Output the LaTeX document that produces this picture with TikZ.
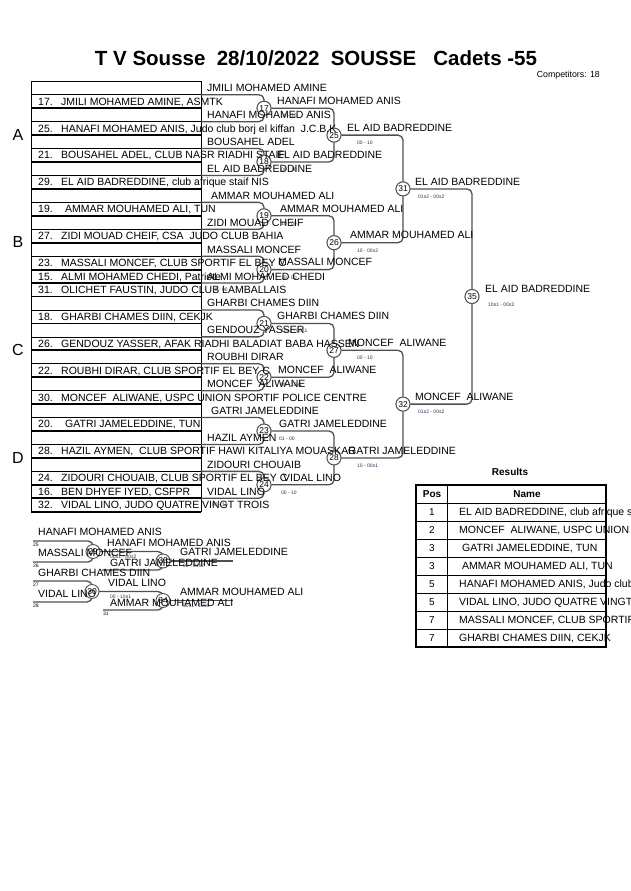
\documentclass[tikz,border=0pt]{standalone}
\usepackage{fontspec}
\setmainfont{Liberation Sans}
\usetikzlibrary{calc}
\definecolor{linecol}{HTML}{505050}
\definecolor{scorecol}{HTML}{2A3050}
\pgfmathdeclarefunction{rowtop}{1}{\pgfmathparse{81.3+13.45*#1}}
\begin{document}
\begin{tikzpicture}[x=1pt,y=-1pt,
  rowline/.style={draw=black,line width=0.6pt},
  rowthick/.style={draw=black,line width=1.8pt},
  lbl/.style={anchor=base west,inner sep=0pt,font=\fontsize{10.5}{12}\selectfont},
  sc/.style={anchor=base west,inner sep=0pt,font=\fontsize{5}{6}\selectfont,text=scorecol},
  tinynum/.style={anchor=base west,inner sep=0pt,font=\fontsize{5}{6}\selectfont},
  mc/.style={circle,draw=linecol,fill=white,line width=0.9pt,minimum size=14pt,inner sep=0pt,font=\fontsize{8.5}{9}\selectfont},
  conn/.style={draw=linecol,line width=1.3pt,rounded corners=5pt},
  pool/.style={anchor=center,inner sep=0pt,font=\fontsize{16}{18}\selectfont},
  tabtxt/.style={anchor=base west,inner sep=0pt,font=\fontsize{10.5}{12}\selectfont},
  tabpos/.style={anchor=center,inner sep=0pt,font=\fontsize{10}{12}\selectfont},
  tabhead/.style={anchor=center,inner sep=0pt,font=\bfseries\fontsize{10}{12}\selectfont},
]
\useasboundingbox (0,0) rectangle (630,891);
\fill[white] (0,0) rectangle (630,891);

% title
\node[inner sep=0pt,font=\bfseries\fontsize{20.5}{24}\selectfont] (title) at (316,58) {T V Sousse\ \ 28/10/2022\ \ SOUSSE\ \ \ Cadets -55};
\node[anchor=east,inner sep=0pt,font=\fontsize{8.8}{10}\selectfont] (comp) at (600,75) {Competitors: 18};

% left boxes
\foreach \i in {0,...,31} \draw[rowline] (31,{rowtop(\i)}) rectangle (201,{rowtop(\i+1)});
\foreach \i in {1,3,5,7,9,11,13,14,15,17,19,21,23,25,27,29,30,31} \draw[rowthick] (31,{rowtop(\i+1)}) -- (201,{rowtop(\i+1)});

% pool letters
\node[pool] (pA) at (18,135) {A};
\node[pool] (pB) at (18,242) {B};
\node[pool] (pC) at (18,350) {C};
\node[pool] (pD) at (18,458) {D};

% start coordinates
\foreach \i in {1,3,5,7,9,11,13,15,17,19,21,23,25,27,29,31} \coordinate (s\i) at (201,{rowtop(\i)});

% match circle positions
\coordinate (c17) at (264,108.2); \coordinate (c18) at (264,162.0);
\coordinate (c19) at (264,215.8); \coordinate (c20) at (264,269.6);
\coordinate (c21) at (264,323.4); \coordinate (c22) at (264,377.2);
\coordinate (c23) at (264,431.0); \coordinate (c24) at (264,484.8);
\coordinate (c25) at (334,135.1); \coordinate (c26) at (334,242.7);
\coordinate (c27) at (334,350.3); \coordinate (c28) at (334,457.9);
\coordinate (c31) at (403,188.9); \coordinate (c32) at (403,404.1);
\coordinate (c35) at (472,296.5);

\node[mc] (m17) at (c17) {17}; \node[mc] (m18) at (c18) {18};
\node[mc] (m19) at (c19) {19}; \node[mc] (m20) at (c20) {20};
\node[mc] (m21) at (c21) {21}; \node[mc] (m22) at (c22) {22};
\node[mc] (m23) at (c23) {23}; \node[mc] (m24) at (c24) {24};
\node[mc] (m25) at (c25) {25}; \node[mc] (m26) at (c26) {26};
\node[mc] (m27) at (c27) {27}; \node[mc] (m28) at (c28) {28};
\node[mc] (m31) at (c31) {31}; \node[mc] (m32) at (c32) {32};
\node[mc] (m35) at (c35) {35};

% connectors
\draw[conn] (s1) -| (m17); \draw[conn] (s3) -| (m17);
\draw[conn] (s5) -| (m18); \draw[conn] (s7) -| (m18);
\draw[conn] (s9) -| (m19); \draw[conn] (s11) -| (m19);
\draw[conn] (s13) -| (m20); \draw[conn] (s15) -| (m20);
\draw[conn] (s17) -| (m21); \draw[conn] (s19) -| (m21);
\draw[conn] (s21) -| (m22); \draw[conn] (s23) -| (m22);
\draw[conn] (s25) -| (m23); \draw[conn] (s27) -| (m23);
\draw[conn] (s29) -| (m24); \draw[conn] (s31) -| (m24);
\draw[conn] (m17) -| (m25); \draw[conn] (m18) -| (m25);
\draw[conn] (m19) -| (m26); \draw[conn] (m20) -| (m26);
\draw[conn] (m21) -| (m27); \draw[conn] (m22) -| (m27);
\draw[conn] (m23) -| (m28); \draw[conn] (m24) -| (m28);
\draw[conn] (m25) -| (m31); \draw[conn] (m26) -| (m31);
\draw[conn] (m27) -| (m32); \draw[conn] (m28) -| (m32);
\draw[conn] (m31) -| (m35); \draw[conn] (m32) -| (m35);

% redraw circles on top
\foreach \n in {17,18,19,20,21,22,23,24,25,26,27,28,31,32,35} \node[mc] at (c\n) {\n};

% row texts
\node[lbl] (t1) at (38,{rowtop(1)+10.4}) {\makebox[23pt][l]{17.}JMILI MOHAMED AMINE, ASMTK};
\node[lbl] (t3) at (38,{rowtop(3)+10.4}) {\makebox[23pt][l]{25.}HANAFI MOHAMED ANIS, Judo club borj el kiffan\ \ J.C.B.K};
\node[lbl] (t5) at (38,{rowtop(5)+10.4}) {\makebox[23pt][l]{21.}BOUSAHEL ADEL, CLUB NASR RIADHI STAIF};
\node[lbl] (t7) at (38,{rowtop(7)+10.4}) {\makebox[23pt][l]{29.}EL AID BADREDDINE, club afrique staif NIS};
\node[lbl] (t9) at (38,{rowtop(9)+10.4}) {\makebox[27pt][l]{19.}AMMAR MOUHAMED ALI, TUN};
\node[lbl] (t11) at (38,{rowtop(11)+10.4}) {\makebox[23pt][l]{27.}ZIDI MOUAD CHEIF, CSA\ \ JUDO CLUB BAHIA};
\node[lbl] (t13) at (38,{rowtop(13)+10.4}) {\makebox[23pt][l]{23.}MASSALI MONCEF, CLUB SPORTIF EL BEY C};
\node[lbl] (t14) at (38,{rowtop(14)+10.4}) {\makebox[23pt][l]{15.}ALMI MOHAMED CHEDI, Patriote};
\node[lbl] (t15) at (38,{rowtop(15)+10.4}) {\makebox[23pt][l]{31.}OLICHET FAUSTIN, JUDO CLUB LAMBALLAIS};
\node[lbl] (t17) at (38,{rowtop(17)+10.4}) {\makebox[23pt][l]{18.}GHARBI CHAMES DIIN, CEKJK};
\node[lbl] (t19) at (38,{rowtop(19)+10.4}) {\makebox[23pt][l]{26.}GENDOUZ YASSER, AFAK RIADHI BALADIAT BABA HASSEN};
\node[lbl] (t21) at (38,{rowtop(21)+10.4}) {\makebox[23pt][l]{22.}ROUBHI DIRAR, CLUB SPORTIF EL BEY C};
\node[lbl] (t23) at (38,{rowtop(23)+10.4}) {\makebox[23pt][l]{30.}MONCEF\ \ ALIWANE, USPC UNION SPORTIF POLICE CENTRE};
\node[lbl] (t25) at (38,{rowtop(25)+10.4}) {\makebox[27pt][l]{20.}GATRI JAMELEDDINE, TUN};
\node[lbl] (t27) at (38,{rowtop(27)+10.4}) {\makebox[23pt][l]{28.}HAZIL AYMEN,\ \ CLUB SPORTIF HAWI KITALIYA MOUASKAR};
\node[lbl] (t29) at (38,{rowtop(29)+10.4}) {\makebox[23pt][l]{24.}ZIDOURI CHOUAIB, CLUB SPORTIF EL BEY C};
\node[lbl] (t30) at (38,{rowtop(30)+10.4}) {\makebox[23pt][l]{16.}BEN DHYEF IYED, CSFPR};
\node[lbl] (t31) at (38,{rowtop(31)+10.4}) {\makebox[23pt][l]{32.}VIDAL LINO, JUDO QUATRE VINGT TROIS};

% names right of boxes
\node[lbl] (e0) at (207,{rowtop(0)+10.4}) {JMILI MOHAMED AMINE};
\node[lbl] (e2) at (207,{rowtop(2)+10.4}) {HANAFI MOHAMED ANIS};
\node[lbl] (e4) at (207,{rowtop(4)+10.4}) {BOUSAHEL ADEL};
\node[lbl] (e6) at (207,{rowtop(6)+10.4}) {EL AID BADREDDINE};
\node[lbl] (e8) at (211,{rowtop(8)+10.4}) {AMMAR MOUHAMED ALI};
\node[lbl] (e10) at (207,{rowtop(10)+10.4}) {ZIDI MOUAD CHEIF};
\node[lbl] (e12) at (207,{rowtop(12)+10.4}) {MASSALI MONCEF};
\node[lbl] (e14) at (207,{rowtop(14)+10.4}) {ALMI MOHAMED CHEDI};
\node[lbl] (e16) at (207,{rowtop(16)+10.4}) {GHARBI CHAMES DIIN};
\node[lbl] (e18) at (207,{rowtop(18)+10.4}) {GENDOUZ YASSER};
\node[lbl] (e20) at (207,{rowtop(20)+10.4}) {ROUBHI DIRAR};
\node[lbl] (e22) at (207,{rowtop(22)+10.4}) {MONCEF\ \ ALIWANE};
\node[lbl] (e24) at (211,{rowtop(24)+10.4}) {GATRI JAMELEDDINE};
\node[lbl] (e26) at (207,{rowtop(26)+10.4}) {HAZIL AYMEN};
\node[lbl] (e28) at (207,{rowtop(28)+10.4}) {ZIDOURI CHOUAIB};
\node[lbl] (e30) at (207,{rowtop(30)+10.4}) {VIDAL LINO};

% winner labels
\node[lbl] (w17) at (277,104.4) {HANAFI MOHAMED ANIS};
\node[lbl] (w18) at (277,158.2) {EL AID BADREDDINE};
\node[lbl] (w19) at (280,212.0) {AMMAR MOUHAMED ALI};
\node[lbl] (w20) at (278,265.8) {MASSALI MONCEF};
\node[lbl] (w21) at (277,319.6) {GHARBI CHAMES DIIN};
\node[lbl] (w22) at (278,373.4) {MONCEF\ \ ALIWANE};
\node[lbl] (w23) at (279,427.2) {GATRI JAMELEDDINE};
\node[lbl] (w24) at (283,481.0) {VIDAL LINO};
\node[lbl] (w25) at (347,131.3) {EL AID BADREDDINE};
\node[lbl] (w26) at (350,238.9) {AMMAR MOUHAMED ALI};
\node[lbl] (w27) at (348,346.5) {MONCEF\ \ ALIWANE};
\node[lbl] (w28) at (348,454.1) {GATRI JAMELEDDINE};
\node[lbl] (w31) at (415,185.1) {EL AID BADREDDINE};
\node[lbl] (w32) at (415,400.3) {MONCEF\ \ ALIWANE};
\node[lbl] (w35) at (485,292.7) {EL AID BADREDDINE};

% scores
\node[sc] (k17) at (281,117.7) {00 - 10};
\node[sc] (k18) at (281,171.5) {00 - 10};
\node[sc] (k19) at (281,225.3) {10 - 00};
\node[sc] (k20) at (281,279.1) {10 - 00};
\node[sc] (k21) at (281,332.9) {10s1 - 00s1};
\node[sc] (k22) at (281,386.7) {00 - 10s1};
\node[sc] (k23) at (279,440.5) {01 - 00};
\node[sc] (k24) at (281,494.3) {00 - 10};
\node[sc] (kp1) at (212,291.5) {10 - 00};
\node[sc] (kp2) at (212,506.0) {00 - 10};
\node[sc] (k25) at (357,144.6) {00 - 10};
\node[sc] (k26) at (357,252.2) {10 - 00s2};
\node[sc] (k27) at (357,359.8) {00 - 10};
\node[sc] (k28) at (357,467.4) {10 - 00s1};
\node[sc] (k31) at (418,198.4) {01s2 - 00s2};
\node[sc] (k32) at (418,413.6) {01s2 - 00s2};
\node[sc] (k35) at (488,306.0) {10s1 - 00s2};

% repechage
\coordinate (ra1) at (33,541); \coordinate (ra2) at (33,562);
\coordinate (rb1) at (102,570); \coordinate (re1) at (233,561);
\coordinate (ra3) at (33,581); \coordinate (ra4) at (33,602);
\coordinate (rb2) at (103,610); \coordinate (re2) at (233,600.5);
\coordinate (cr29) at (93,551.5); \coordinate (cr33) at (163,561);
\coordinate (cr30) at (92,591.5); \coordinate (cr34) at (163,600.5);
\draw[conn] (ra1) -| (cr29); \draw[conn] (ra2) -| (cr29);
\draw[conn] (cr29) -| (cr33); \draw[conn] (rb1) -| (cr33);
\draw[conn] (cr33) -- (re1);
\draw[conn] (ra3) -| (cr30); \draw[conn] (ra4) -| (cr30);
\draw[conn] (cr30) -| (cr34); \draw[conn] (rb2) -| (cr34);
\draw[conn] (cr34) -- (re2);
\node[mc] (r29) at (cr29) {29}; \node[mc] (r33) at (cr33) {33};
\node[mc] (r30) at (cr30) {30}; \node[mc] (r34) at (cr34) {34};

\node[tinynum] (n25) at (33,546) {25};
\node[tinynum] (n26) at (33,567) {26};
\node[tinynum] (n27) at (33,586) {27};
\node[tinynum] (n28) at (33,607) {28};
\node[tinynum] (n31) at (103,615) {31};

\node[lbl] (q1) at (38,535.7) {HANAFI MOHAMED ANIS};
\node[lbl] (q2) at (38,556.7) {MASSALI MONCEF};
\node[lbl] (q3) at (107,546.7) {HANAFI MOHAMED ANIS};
\node[lbl] (q4) at (110,566.7) {GATRI JAMELEDDINE};
\node[lbl] (q5) at (180,555.2) {GATRI JAMELEDDINE};
\node[lbl] (q6) at (38,576.7) {GHARBI CHAMES DIIN};
\node[lbl] (q7) at (38,597.7) {VIDAL LINO};
\node[lbl] (q8) at (108,586.7) {VIDAL LINO};
\node[lbl] (q9) at (110,606.7) {AMMAR MOUHAMED ALI};
\node[lbl] (q10) at (180,595.7) {AMMAR MOUHAMED ALI};
\node[sc] (qs1) at (110,558) {00s1 - 00s2};
\node[sc] (qs2) at (183,567.5) {00 - 01s2};
\node[sc] (qs3) at (110,598) {00 - 10s1};
\node[sc] (qs4) at (183,607) {00s1 - 10s1};

% results table
\node[inner sep=0pt,font=\bfseries\fontsize{10}{12}\selectfont] (res) at (510,472) {Results};
\draw[line width=0.7pt] (447,485) -- (447,647);
\draw[line width=0.9pt] (416,503) -- (606,503);
\foreach \y in {521,539,557,575,593,611,629} \draw[line width=0.6pt] (416,\y) -- (606,\y);
\draw[line width=1.6pt] (416,485) rectangle (606,647);
\node[tabhead] (hp) at (432,494) {Pos};
\node[tabhead] (hn) at (527,494) {Name};
\node[tabpos] (p1) at (432,512) {1};
\node[tabpos] (p2) at (432,530) {2};
\node[tabpos] (p3) at (432,548) {3};
\node[tabpos] (p4) at (432,566) {3};
\node[tabpos] (p5) at (432,584) {5};
\node[tabpos] (p6) at (432,602) {5};
\node[tabpos] (p7) at (432,620) {7};
\node[tabpos] (p8) at (432,638) {7};
\node[tabtxt] (rn1) at (459,515.7) {EL AID BADREDDINE, club afrique staif NIS};
\node[tabtxt] (rn2) at (459,533.7) {MONCEF\ \ ALIWANE, USPC UNION SPORTIF POLICE CENTRE};
\node[tabtxt] (rn3) at (462,551.7) {GATRI JAMELEDDINE, TUN};
\node[tabtxt] (rn4) at (462,569.7) {AMMAR MOUHAMED ALI, TUN};
\node[tabtxt] (rn5) at (459,587.7) {HANAFI MOHAMED ANIS, Judo club borj el kiffan J.C.B.K};
\node[tabtxt] (rn6) at (459,605.7) {VIDAL LINO, JUDO QUATRE VINGT TROIS};
\node[tabtxt] (rn7) at (459,623.7) {MASSALI MONCEF, CLUB SPORTIF EL BEY C};
\node[tabtxt] (rn8) at (459,641.7) {GHARBI CHAMES DIIN, CEKJK};
\end{tikzpicture}
\end{document}
